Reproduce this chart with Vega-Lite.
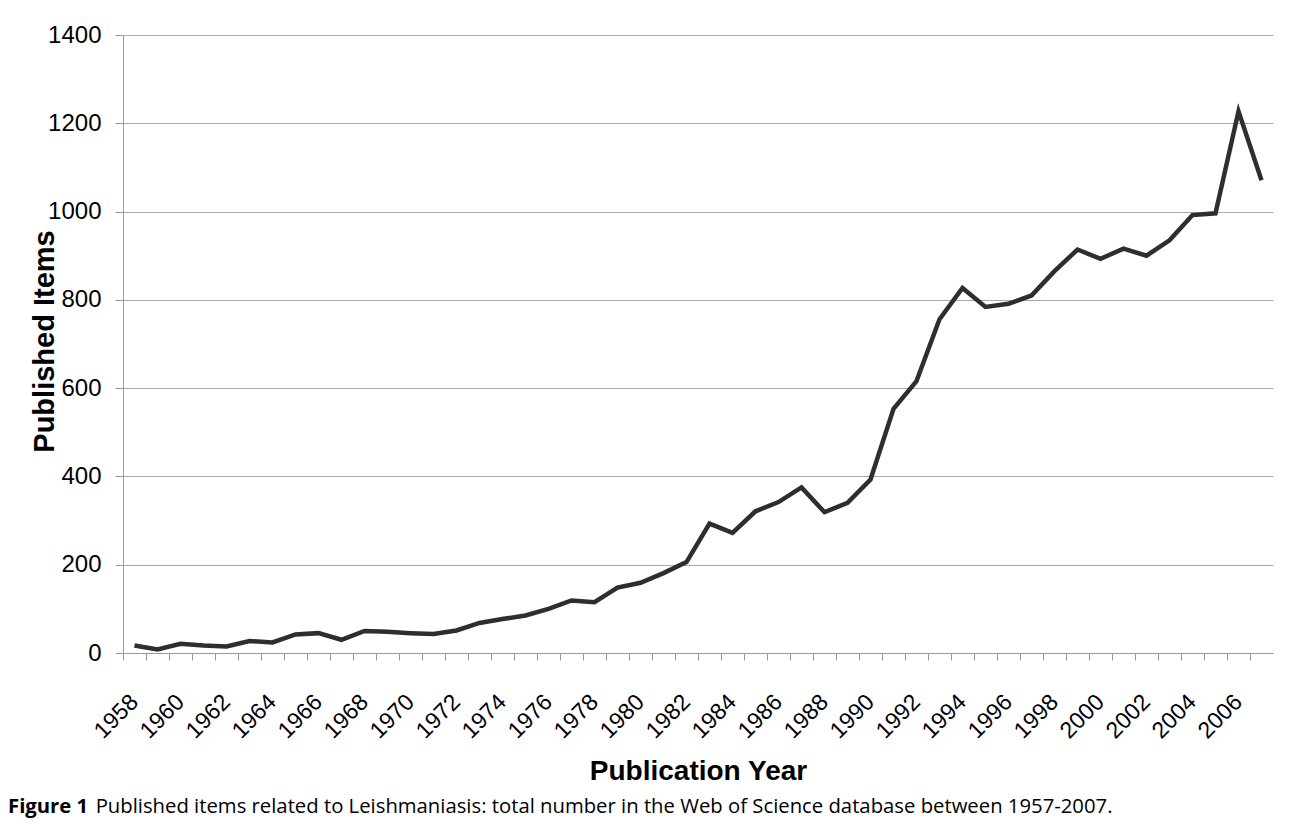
{
  "$schema": "https://vega.github.io/schema/vega-lite/v6.json",
  "width": 1150,
  "height": 618,
  "autosize": {"type": "none"},
  "padding": {"left": 123, "top": 35, "right": 17, "bottom": 174},
  "background": "white",
  "config": {"view": {"stroke": null}, "font": "Liberation Sans"},
  "title": {
    "text": "Figure 1",
    "subtitle": "\u200b\u00a0\u00a0\u00a0\u00a0\u00a0\u00a0\u00a0\u00a0\u00a0\u00a0\u00a0\u00a0\u00a0\u00a0\u00a0\u00a0\u2009Published items related to Leishmaniasis: total number in the Web of Science database between 1957-2007.",
    "orient": "bottom",
    "anchor": "start",
    "frame": "group",
    "dx": -115,
    "offset": 12,
    "font": "Open Sans",
    "fontSize": 20.3,
    "fontWeight": "bold",
    "color": "black",
    "subtitleFont": "Open Sans",
    "subtitleFontSize": 20.3,
    "subtitleFontWeight": "normal",
    "subtitleColor": "black",
    "subtitlePadding": -20.3
  },
  "data": {
    "values": [
      {"year": "1958", "items": 17}, {"year": "1959", "items": 8}, {"year": "1960", "items": 21},
      {"year": "1961", "items": 17}, {"year": "1962", "items": 15}, {"year": "1963", "items": 27},
      {"year": "1964", "items": 24}, {"year": "1965", "items": 42}, {"year": "1966", "items": 45},
      {"year": "1967", "items": 30}, {"year": "1968", "items": 50}, {"year": "1969", "items": 48},
      {"year": "1970", "items": 45}, {"year": "1971", "items": 43}, {"year": "1972", "items": 51},
      {"year": "1973", "items": 68}, {"year": "1974", "items": 77}, {"year": "1975", "items": 85},
      {"year": "1976", "items": 100}, {"year": "1977", "items": 119}, {"year": "1978", "items": 115},
      {"year": "1979", "items": 148}, {"year": "1980", "items": 159}, {"year": "1981", "items": 181},
      {"year": "1982", "items": 206}, {"year": "1983", "items": 293}, {"year": "1984", "items": 272},
      {"year": "1985", "items": 321}, {"year": "1986", "items": 342}, {"year": "1987", "items": 375},
      {"year": "1988", "items": 319}, {"year": "1989", "items": 340}, {"year": "1990", "items": 393},
      {"year": "1991", "items": 553}, {"year": "1992", "items": 616}, {"year": "1993", "items": 756},
      {"year": "1994", "items": 827}, {"year": "1995", "items": 784}, {"year": "1996", "items": 791},
      {"year": "1997", "items": 810}, {"year": "1998", "items": 865}, {"year": "1999", "items": 914},
      {"year": "2000", "items": 893}, {"year": "2001", "items": 916}, {"year": "2002", "items": 900},
      {"year": "2003", "items": 935}, {"year": "2004", "items": 992}, {"year": "2005", "items": 996},
      {"year": "2006", "items": 1227}, {"year": "2007", "items": 1071}
    ]
  },
  "mark": {"type": "line", "color": "#2e2e2e", "strokeWidth": 4.5, "strokeJoin": "miter"},
  "encoding": {
    "x": {
      "field": "year",
      "type": "ordinal",
      "bandPosition": 0.5,
      "scale": {"type": "band", "paddingInner": 0, "paddingOuter": 0},
      "axis": {
        "title": "Publication Year",
        "titleFont": "Liberation Sans",
        "titleFontSize": 28,
        "titleFontWeight": "bold",
        "titleColor": "black",
        "titleBaseline": "alphabetic",
        "titleY": 126,
        "bandPosition": 0,
        "labelAngle": -45,
        "labelAlign": "right",
        "labelBaseline": "middle",
        "labelFontSize": 23,
        "labelColor": "black",
        "labelPadding": 38,
        "labelOverlap": false,
        "labelFlush": false,
        "labelExpr": "parseInt(datum.value) % 2 == 0 ? datum.label : ''",
        "tickSize": 7,
        "tickColor": "#9a9a9a",
        "domainColor": "#9a9a9a",
        "grid": false
      }
    },
    "y": {
      "field": "items",
      "type": "quantitative",
      "scale": {"domain": [0, 1400], "nice": false},
      "axis": {
        "title": "Published Items",
        "titleFont": "Liberation Sans",
        "titleFontSize": 29,
        "titleFontWeight": "bold",
        "titleColor": "black",
        "titleBaseline": "alphabetic",
        "titleAngle": 270,
        "titleAlign": "center",
        "titleX": -70,
        "titleY": 306,
        "values": [0, 200, 400, 600, 800, 1000, 1200, 1400],
        "labelFontSize": 24,
        "labelColor": "black",
        "labelPadding": 14,
        "tickSize": 8,
        "tickColor": "#9a9a9a",
        "domainColor": "#9a9a9a",
        "gridColor": "#a8a8a8",
        "gridOpacity": 1,
        "format": "d"
      }
    }
  }
}
